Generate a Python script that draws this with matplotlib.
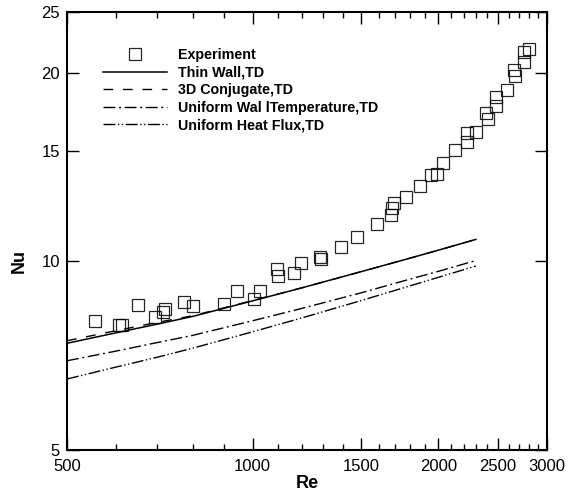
import matplotlib
matplotlib.use("Agg")
import matplotlib.pyplot as plt
from matplotlib.ticker import FixedLocator, FixedFormatter, NullFormatter, NullLocator

plt.rcParams['font.family'] = ['Liberation Sans', 'DejaVu Sans']

# Experimental data
exp_re = [556, 607, 614, 652, 695, 715, 721, 773, 801, 899, 942, 1004, 1026,
          1096, 1098, 1167, 1198, 1284, 1291, 1389, 1476, 1590, 1678, 1684,
          1697, 1775, 1870, 1947, 1987, 2034, 2125, 2228, 2228, 2304, 2385,
          2406, 2482, 2482, 2582, 2648, 2667, 2751, 2758, 2810]
exp_nu = [8.04, 7.92, 7.92, 8.51, 8.14, 8.30, 8.39, 8.61, 8.50, 8.54, 8.98,
          8.72, 8.98, 9.71, 9.49, 9.57, 9.93, 10.17, 10.08, 10.54, 10.95,
          11.47, 11.86, 12.15, 12.38, 12.68, 13.21, 13.76, 13.81, 14.34,
          15.06, 15.52, 16.01, 16.11, 17.27, 16.86, 17.70, 18.32, 18.74,
          20.21, 19.77, 20.83, 21.62, 21.80]

# Model curves
model_re = [500, 600, 700, 800, 1000, 1200, 1500, 1800, 2000, 2300]
thin_wall = [7.40, 7.69, 7.94, 8.17, 8.65, 9.07, 9.63, 10.12, 10.42, 10.84]
conjugate = [7.47, 7.75, 7.99, 8.19, 8.66, 9.07, 9.63, 10.12, 10.42, 10.84]
uniform_wt = [6.94, 7.19, 7.42, 7.62, 8.04, 8.41, 8.91, 9.37, 9.64, 10.03]
uniform_hf = [6.49, 6.78, 7.03, 7.27, 7.72, 8.12, 8.66, 9.14, 9.43, 9.83]

labels = ['Experiment', 'Thin Wall,TD', '3D Conjugate,TD',
          'Uniform Wal lTemperature,TD', 'Uniform Heat Flux,TD']

x_major = [500, 1000, 1500, 2000, 2500, 3000]
x_minor = [600, 700, 800, 900, 1100, 1200, 1300, 1400, 1600, 1700, 1800, 1900,
           2100, 2200, 2300, 2400, 2600, 2700, 2800, 2900]
y_major = [5, 10, 15, 20, 25]

fig = plt.figure(figsize=(5.78, 4.94), dpi=100)
ax = fig.add_axes([67/578, 1-450/494, (547-67)/578, (450-12)/494])
ax.set_xscale('log')
ax.set_yscale('log')

ax.plot(exp_re, exp_nu, linestyle='none', marker='s', markersize=8.6,
        markerfacecolor='none', markeredgecolor='black', markeredgewidth=0.9,
        label=labels[0], alpha=0.85)
ax.plot(model_re, thin_wall, color='black', lw=1.1, linestyle='-', label=labels[1])
ax.plot(model_re, conjugate, color='black', lw=1.0, linestyle=(0, (7, 7)), label=labels[2])
ax.plot(model_re, uniform_wt, color='black', lw=1.0, linestyle=(0, (8.6, 2.6, 1.4, 2.6)), label=labels[3])
ax.plot(model_re, uniform_hf, color='black', lw=1.0, linestyle=(0, (8.6, 1.8, 1.0, 1.8, 1.0, 1.8)), label=labels[4])

ax.set_xlim(500, 3000)
ax.set_ylim(5, 25)

ax.xaxis.set_major_locator(FixedLocator(x_major))
ax.xaxis.set_major_formatter(FixedFormatter([str(v) for v in x_major]))
ax.xaxis.set_minor_locator(FixedLocator(x_minor))
ax.xaxis.set_minor_formatter(NullFormatter())
ax.yaxis.set_major_locator(FixedLocator(y_major))
ax.yaxis.set_major_formatter(FixedFormatter([str(v) for v in y_major]))
ax.yaxis.set_minor_locator(NullLocator())
ax.yaxis.set_minor_formatter(NullFormatter())

ax.tick_params(which='major', direction='in', length=8.6, width=1.0,
               top=True, right=True, labelsize=12, pad=5)
ax.tick_params(axis='x', which='major', pad=6.5)
ax.tick_params(which='minor', direction='in', length=4.3, width=1.0,
               top=True, right=True)
for s in ax.spines.values():
    s.set_linewidth(1.5)

ax.set_xlabel('Re', fontsize=13, fontweight='bold')
ax.xaxis.set_label_coords(0.5, -(483-450)/438)
ax.xaxis.label.set_va('center')
ax.set_ylabel('Nu', fontsize=13, fontweight='bold')
ax.yaxis.set_label_coords(-(67-19)/480, (450-261)/438)
ax.yaxis.label.set_va('center')

leg = ax.legend(loc='upper left', bbox_to_anchor=(36/480, 1-36/438),
                frameon=False, prop={'weight': 'bold', 'size': 10.3},
                handlelength=4.48, handletextpad=0.77, labelspacing=0.25,
                borderpad=0, borderaxespad=0)

fig.savefig('out.png', dpi=100)
